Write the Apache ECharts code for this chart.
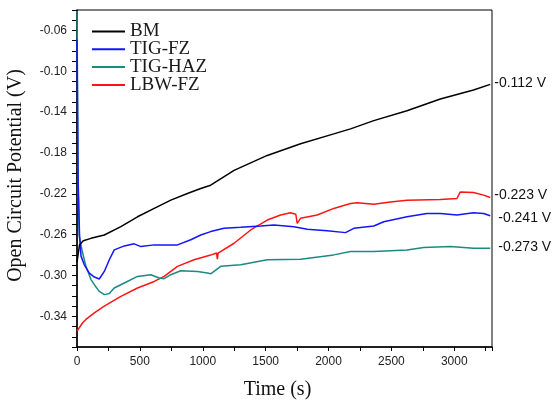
<!DOCTYPE html>
<html>
<head>
<meta charset="utf-8">
<script src="https://cdn.jsdelivr.net/npm/echarts@6/dist/echarts.min.js"></script>
<style>
  html, body { margin: 0; padding: 0; background: #fff; }
  #main { width: 556px; height: 402px; }
</style>
</head>
<body>
<div id="main"></div>
<script>
// series names and end-of-run labels
var names = ['BM', 'TIG-FZ', 'TIG-HAZ', 'LBW-FZ'];
var endTexts = ['-0.112 V', '-0.241 V', '-0.273 V', '-0.223 V'];

// tick labels
var xTicks = [0, 500, 1000, 1500, 2000, 2500, 3000];
var yTicks = [-0.34, -0.30, -0.26, -0.22, -0.18, -0.14, -0.10, -0.06];

// BM (black)
var tBM = [0, 20, 50, 111, 217, 349, 481, 614, 746, 878, 984, 1063, 1249, 1513, 1778, 2042, 2175, 2360, 2624, 2889, 3153, 3286];
var vBM = [-0.287, -0.270, -0.266, -0.2636, -0.2603, -0.2522, -0.2425, -0.2343, -0.2262, -0.2197, -0.2148, -0.2116, -0.197, -0.1824, -0.171, -0.1613, -0.1564, -0.1483, -0.1386, -0.1272, -0.1184, -0.1128];

// TIG-FZ (blue)
var tFZ = [0, 8, 20, 32, 58, 98, 138, 177, 217, 257, 296, 376, 455, 508, 614, 799, 905, 984, 1063, 1169, 1302, 1460, 1566, 1725, 1831, 1989, 2135, 2201, 2360, 2439, 2624, 2783, 2889, 3021, 3153, 3233, 3286];
var vFZ = [-0.069, -0.20, -0.26, -0.281, -0.2895, -0.2976, -0.3015, -0.3034, -0.296, -0.2846, -0.2749, -0.271, -0.269, -0.2717, -0.270, -0.270, -0.265, -0.2603, -0.257, -0.2538, -0.2528, -0.2515, -0.2506, -0.2522, -0.2547, -0.2561, -0.258, -0.2538, -0.2515, -0.2473, -0.2425, -0.2392, -0.2392, -0.2408, -0.2386, -0.2392, -0.2415];

// TIG-HAZ (teal)
var tHAZ = [0, 10, 18, 45, 71, 111, 138, 177, 217, 257, 296, 376, 481, 587, 653, 693, 746, 825, 958, 1037, 1063, 1143, 1302, 1513, 1778, 2042, 2175, 2360, 2624, 2757, 2968, 3153, 3286];
var vHAZ = [-0.041, -0.22, -0.262, -0.278, -0.291, -0.304, -0.309, -0.3155, -0.3187, -0.3177, -0.3122, -0.3073, -0.3009, -0.2992, -0.3025, -0.3031, -0.2992, -0.2954, -0.296, -0.2976, -0.2983, -0.291, -0.2895, -0.2846, -0.284, -0.2798, -0.2765, -0.2765, -0.2749, -0.2726, -0.2717, -0.2733, -0.2733];

// LBW-FZ (red)
var tLBW = [0, 45, 71, 138, 217, 349, 481, 614, 693, 799, 931, 1063, 1110, 1116, 1122, 1249, 1381, 1513, 1619, 1698, 1740, 1751, 1778, 1910, 2042, 2175, 2228, 2360, 2492, 2624, 2889, 3021, 3048, 3153, 3233, 3286];
var vLBW = [-0.3544, -0.3463, -0.343, -0.3365, -0.330, -0.3204, -0.3122, -0.3058, -0.3009, -0.2911, -0.2846, -0.280, -0.278, -0.284, -0.278, -0.2684, -0.2554, -0.2457, -0.2408, -0.2386, -0.240, -0.2489, -0.244, -0.2408, -0.2343, -0.2294, -0.2288, -0.2301, -0.2279, -0.2262, -0.2256, -0.2246, -0.2181, -0.2187, -0.2213, -0.2236];

var colors = ['#000000', '#1414ff', '#1a8a84', '#ff1414'];
var labelOffsets = [[4, -1], [8, 2], [8, -1], [4, -2]];

function zip(t, v) {
  var out = [];
  for (var i = 0; i < t.length; i++) out.push([t[i], v[i]]);
  return out;
}

var allData = [zip(tBM, vBM), zip(tFZ, vFZ), zip(tHAZ, vHAZ), zip(tLBW, vLBW)];

var series = names.map(function (n, i) {
  return {
    name: n,
    type: 'line',
    data: allData[i],
    showSymbol: false,
    symbol: 'none',
    lineStyle: { color: colors[i], width: 1.5 },
    itemStyle: { color: colors[i] },
    endLabel: {
      show: true,
      formatter: endTexts[i],
      color: '#111',
      fontFamily: 'Liberation Sans',
      fontSize: 14,
      offset: labelOffsets[i],
      distance: 0
    },
    z: 4 - i
  };
});

var myChart = echarts.init(document.getElementById('main'), null, { renderer: 'canvas' });
myChart.setOption({
  animation: false,
  backgroundColor: '#ffffff',
  grid: {
    left: 77, top: 10, right: 64, bottom: 55,
    outerBoundsMode: 'none',
    containLabel: false,
    show: true, borderColor: '#000', borderWidth: 1
  },
  legend: {
    data: names,
    orient: 'vertical',
    left: 87,
    top: 17,
    itemWidth: 33,
    itemHeight: 2,
    itemGap: -1.2,
    icon: 'rect',
    textStyle: {
      fontFamily: 'Liberation Serif',
      fontSize: 19,
      color: '#1a1a1a'
    }
  },
  xAxis: {
    type: 'value',
    min: 0,
    max: 3300,
    interval: 500,
    name: 'Time (s)',
    nameLocation: 'middle',
    nameGap: 33,
    nameTextStyle: { fontFamily: 'Liberation Serif', fontSize: 20, color: '#111', padding: [0, 14, 0, 0] },
    axisLine: { lineStyle: { color: '#000', width: 1.5 } },
    axisTick: { inside: false, length: 4, lineStyle: { color: '#000' } },
    minorTick: { show: true, splitNumber: 2, length: 4, lineStyle: { color: '#000' } },
    axisLabel: {
      customValues: xTicks,
      margin: 9,
      fontFamily: 'Liberation Sans',
      fontSize: 12,
      color: '#222',
      formatter: function (v) { return String(v); }
    },
    splitLine: { show: false }
  },
  yAxis: {
    type: 'value',
    min: -0.37,
    max: -0.04,
    interval: 0.01,
    name: 'Open Circuit Potential (V)',
    nameLocation: 'middle',
    nameGap: 51,
    nameTextStyle: { fontFamily: 'Liberation Serif', fontSize: 20, color: '#111', padding: [0, 0, 0, 6] },
    axisLine: { lineStyle: { color: '#000', width: 1.5 } },
    axisTick: { inside: false, length: 5, lineStyle: { color: '#000' } },
    axisLabel: {
      customValues: yTicks,
      margin: 10,
      fontFamily: 'Liberation Sans',
      fontSize: 12,
      color: '#222',
      formatter: function (v) { return v.toFixed(2); }
    },
    splitLine: { show: false }
  },
  series: series
});
</script>
</body>
</html>
